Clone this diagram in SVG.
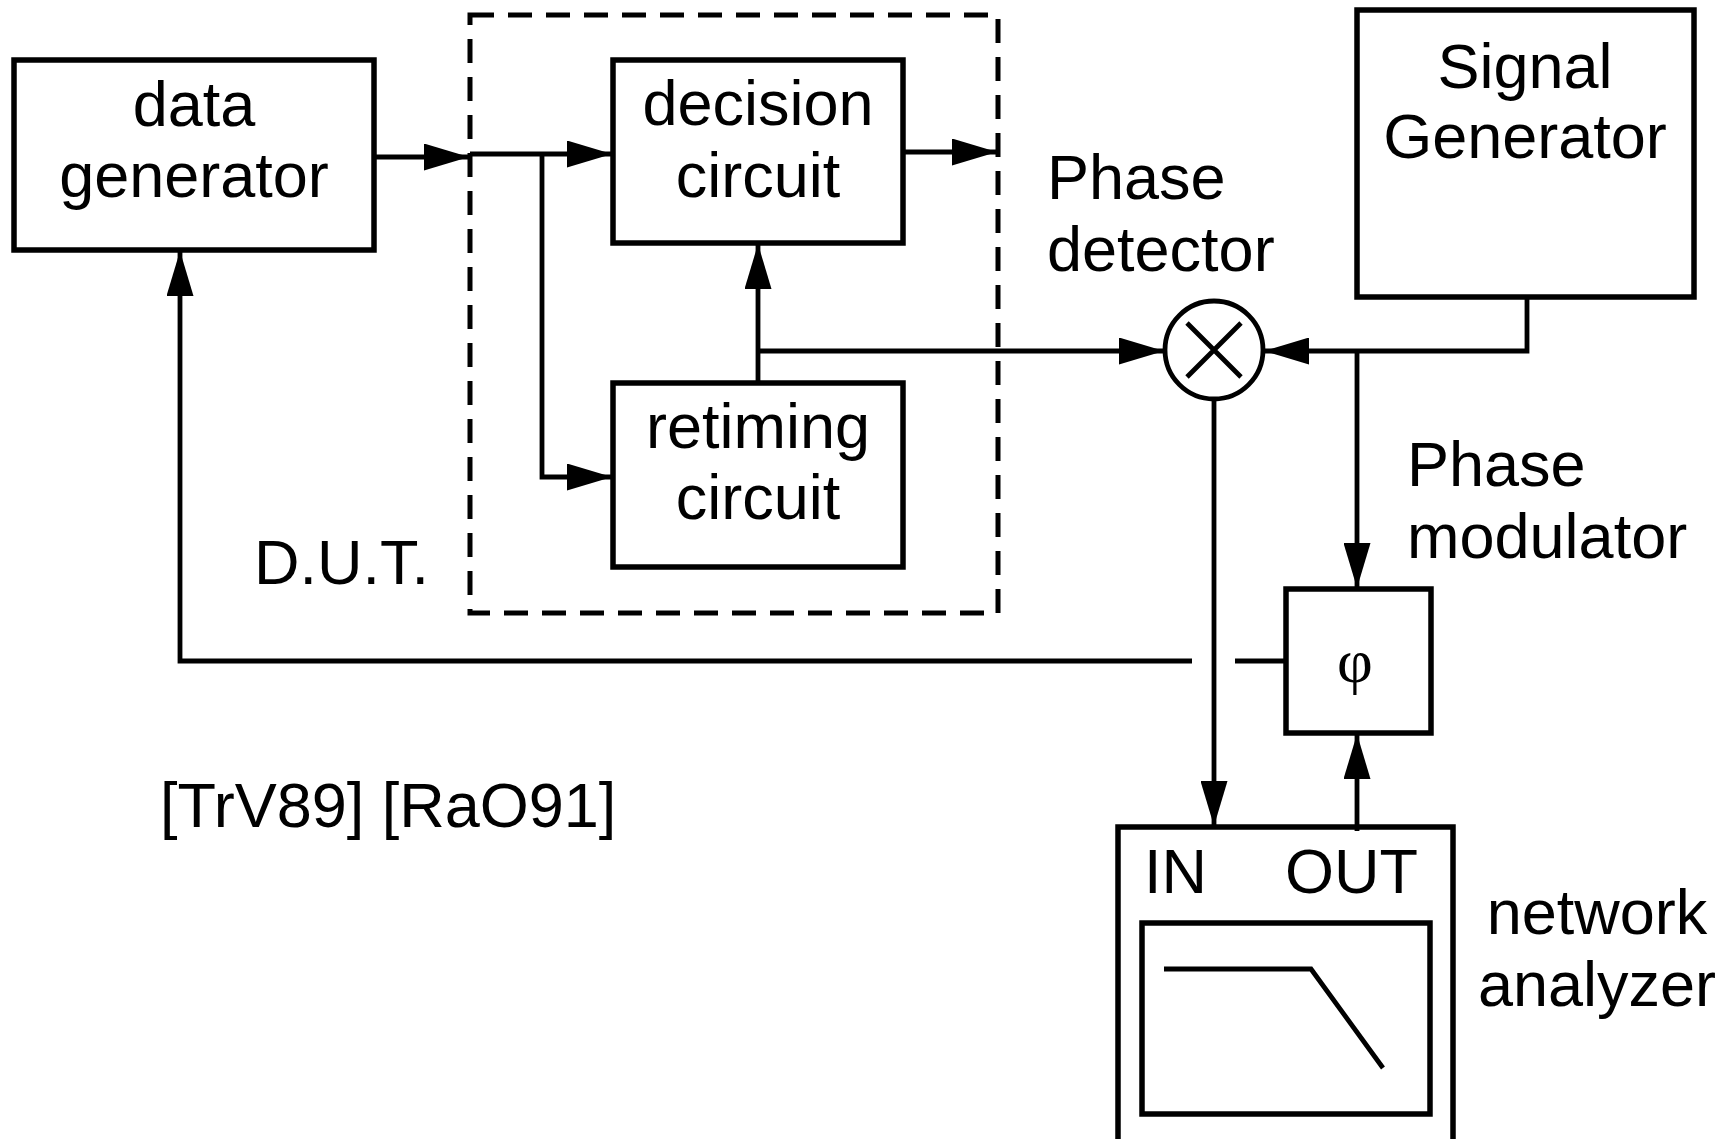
<svg xmlns="http://www.w3.org/2000/svg" width="1733" height="1139" viewBox="0 0 1733 1139">
<style>
.box{fill:none;stroke:#000;stroke-width:5.5}
.ln{fill:none;stroke:#000;stroke-width:4.8}
.t{font-family:"Liberation Sans",Arial,sans-serif;font-size:63px;fill:#000}
.c{text-anchor:middle}
</style>
<defs>
<marker id="ah" markerUnits="userSpaceOnUse" markerWidth="45" markerHeight="27" refX="45" refY="13.5" orient="auto">
<path d="M0,0 L45,13.5 L0,27 z" fill="#000"/>
</marker>
</defs>
<rect width="1733" height="1139" fill="#fff"/>

<g id="dut">
<rect x="470" y="15" width="528" height="598" fill="none" stroke="#000" stroke-width="5" stroke-dasharray="24 14"/>
<text class="t" x="254" y="584">D.U.T.</text>
</g>

<g id="data-generator">
<rect class="box" x="14" y="60" width="360" height="190"/>
<text class="t c" x="194" y="126">data</text>
<text class="t c" x="194" y="197">generator</text>
</g>

<g id="decision-circuit">
<rect class="box" x="613" y="60" width="290" height="183"/>
<text class="t c" x="758" y="125">decision</text>
<text class="t c" x="758" y="197">circuit</text>
</g>

<g id="retiming-circuit">
<rect class="box" x="613" y="383" width="290" height="184"/>
<text class="t c" x="758" y="448">retiming</text>
<text class="t c" x="758" y="519">circuit</text>
</g>

<g id="signal-generator">
<rect class="box" x="1357" y="10" width="337" height="287"/>
<text class="t c" x="1525" y="88">Signal</text>
<text class="t c" x="1525" y="158">Generator</text>
</g>

<g id="phase-detector">
<circle cx="1214" cy="350" r="49" fill="none" stroke="#000" stroke-width="4.8"/>
<path class="ln" d="M1187,323 L1241,377 M1241,323 L1187,377"/>
<text class="t" x="1047" y="199">Phase</text>
<text class="t" x="1047" y="271">detector</text>
</g>

<g id="phase-modulator">
<rect class="box" x="1286" y="589" width="145" height="144"/>
<text x="1355" y="682" text-anchor="middle" font-family="Liberation Serif,'Times New Roman',serif" font-size="62">φ</text>
<text class="t" x="1407" y="486">Phase</text>
<text class="t" x="1407" y="558">modulator</text>
</g>

<g id="network-analyzer">
<path class="box" d="M1118,1142 V827 H1453 V1142"/>
<rect class="box" x="1142" y="923" width="288" height="191"/>
<path class="ln" d="M1164,969 H1311 L1383,1068"/>
<text class="t" x="1144" y="893">IN</text>
<text class="t" x="1285" y="893">OUT</text>
<text class="t c" x="1597" y="934">network</text>
<text class="t c" x="1597" y="1006">analyzer</text>
</g>

<g id="reference">
<text class="t" x="160" y="827">[TrV89] [RaO91]</text>
</g>

<g id="connectors">
<path class="ln" d="M374,157 H469" marker-end="url(#ah)"/>
<path class="ln" d="M470,154 H612" marker-end="url(#ah)"/>
<path class="ln" d="M542,154 V477 H612" marker-end="url(#ah)"/>
<path class="ln" d="M903,152 H997" marker-end="url(#ah)"/>
<path class="ln" d="M758,383 V244" marker-end="url(#ah)"/>
<path class="ln" d="M758,351 H1164" marker-end="url(#ah)"/>
<path class="ln" d="M1527,297 V351 H1264" marker-end="url(#ah)"/>
<path class="ln" d="M1357,351 V588" marker-end="url(#ah)"/>
<path class="ln" d="M1214,399 V826" marker-end="url(#ah)"/>
<path class="ln" d="M1357,831 V734" marker-end="url(#ah)"/>
<path class="ln" d="M1286,661 H1235"/>
<path class="ln" d="M1192,661 H180 V251" marker-end="url(#ah)"/>
</g>
</svg>
